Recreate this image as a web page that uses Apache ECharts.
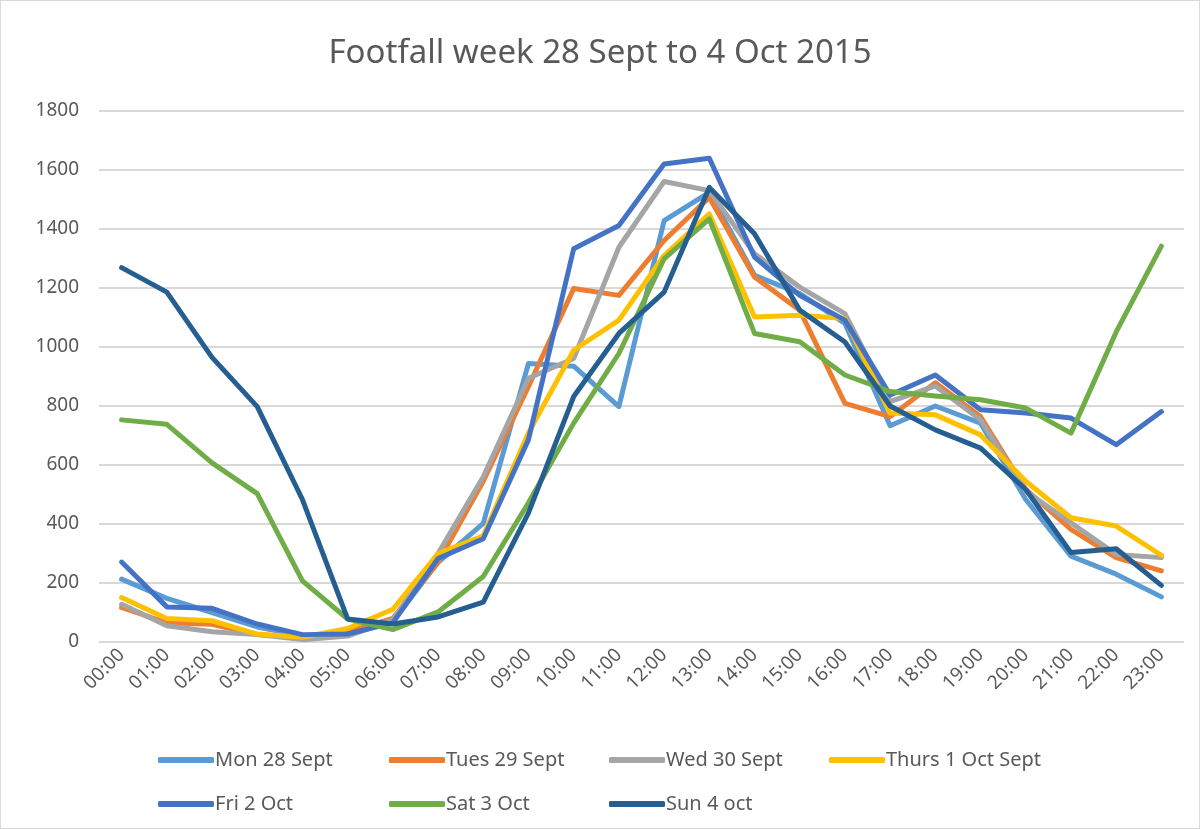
<!DOCTYPE html>
<html><head><meta charset="utf-8">
<script src="https://cdn.jsdelivr.net/npm/echarts@6/dist/echarts.min.js"></script>
<style>html,body{margin:0;padding:0;background:#fff}#c{width:1200px;height:829px;box-sizing:border-box;border:1px solid #d9d9d9}</style>
</head><body><div id="c"></div>
<script>
const hours = ['00:00','01:00','02:00','03:00','04:00','05:00','06:00','07:00','08:00','09:00','10:00','11:00','12:00','13:00','14:00','15:00','16:00','17:00','18:00','19:00','20:00','21:00','22:00','23:00'];
const seriesNames = ['Mon 28 Sept','Tues 29 Sept','Wed 30 Sept','Thurs 1 Oct Sept','Fri 2 Oct','Sat 3 Oct','Sun 4 oct'];
const mon   = [213,148,100,51,21,25,70,270,402,944,935,798,1428,1524,1243,1181,1080,733,800,742,483,291,230,153];
const tues  = [117,65,60,25,15,35,80,270,545,866,1198,1175,1361,1507,1237,1125,809,764,879,764,517,382,286,241];
const wed   = [128,55,35,25,8,20,75,300,560,894,961,1338,1561,1530,1316,1203,1113,815,868,753,511,404,297,286];
const thurs = [151,80,72,27,16,46,111,300,360,709,989,1091,1310,1451,1102,1108,1097,776,770,702,545,421,393,294];
const fri   = [271,119,114,61,25,27,65,283,350,686,1333,1412,1620,1640,1305,1175,1091,837,905,787,776,759,669,781];
const sat   = [753,738,607,503,207,78,42,102,222,472,742,978,1299,1434,1046,1018,905,849,834,821,793,708,1051,1342];
const sun   = [1269,1186,965,798,483,78,61,85,135,438,832,1046,1186,1541,1384,1125,1017,800,719,657,517,303,316,192];
const yTicks = [0,200,400,600,800,1000,1200,1400,1600,1800];

const values = [mon,tues,wed,thurs,fri,sat,sun];
const colors = ['#5B9BD5','#ED7D31','#A5A5A5','#FFC000','#4472C4','#70AD47','#255E91'];
const font = 'Noto Sans';
const legendPos = [[152,744],[383,744],[603,744],[823,744],[152,788],[383,788],[603,788]];

const chart = echarts.init(document.getElementById('c'), null, {renderer:'canvas'});
chart.setOption({
  animation:false,
  color:colors,
  title:{text:'Footfall week 28 Sept to 4 Oct 2015',left:'center',top:31,
    textStyle:{fontFamily:font,fontSize:33,fontWeight:'normal',color:'#595959'}},
  legend: seriesNames.map((n,i)=>({data:[n],left:legendPos[i][0],top:legendPos[i][1],
    itemWidth:56,itemHeight:6,itemGap:4,icon:'roundRect',
    textStyle:{fontFamily:font,fontSize:20,color:'#595959',padding:[0,0,0,-4]}})),
  grid:{left:98,right:15,top:110,bottom:186,containLabel:false},
  xAxis:{type:'category',data:hours,boundaryGap:true,
    axisLine:{lineStyle:{color:'#d9d9d9',width:1}},axisTick:{show:false},
    axisLabel:{rotate:45,fontFamily:font,fontSize:19,color:'#595959',margin:10}},
  yAxis:{type:'value',min:yTicks[0],max:yTicks[yTicks.length-1],interval:200,
    axisLine:{show:false},axisTick:{show:false},
    splitLine:{lineStyle:{color:'#d9d9d9',width:2}},
    axisLabel:{fontFamily:font,fontSize:19,color:'#595959',margin:20,formatter:v=>String(v)}},
  series: seriesNames.map((n,i)=>({name:n,type:'line',data:values[i],symbol:'none',
    lineStyle:{width:5,color:colors[i],cap:'round',join:'round'}}))
});
</script></body></html>
